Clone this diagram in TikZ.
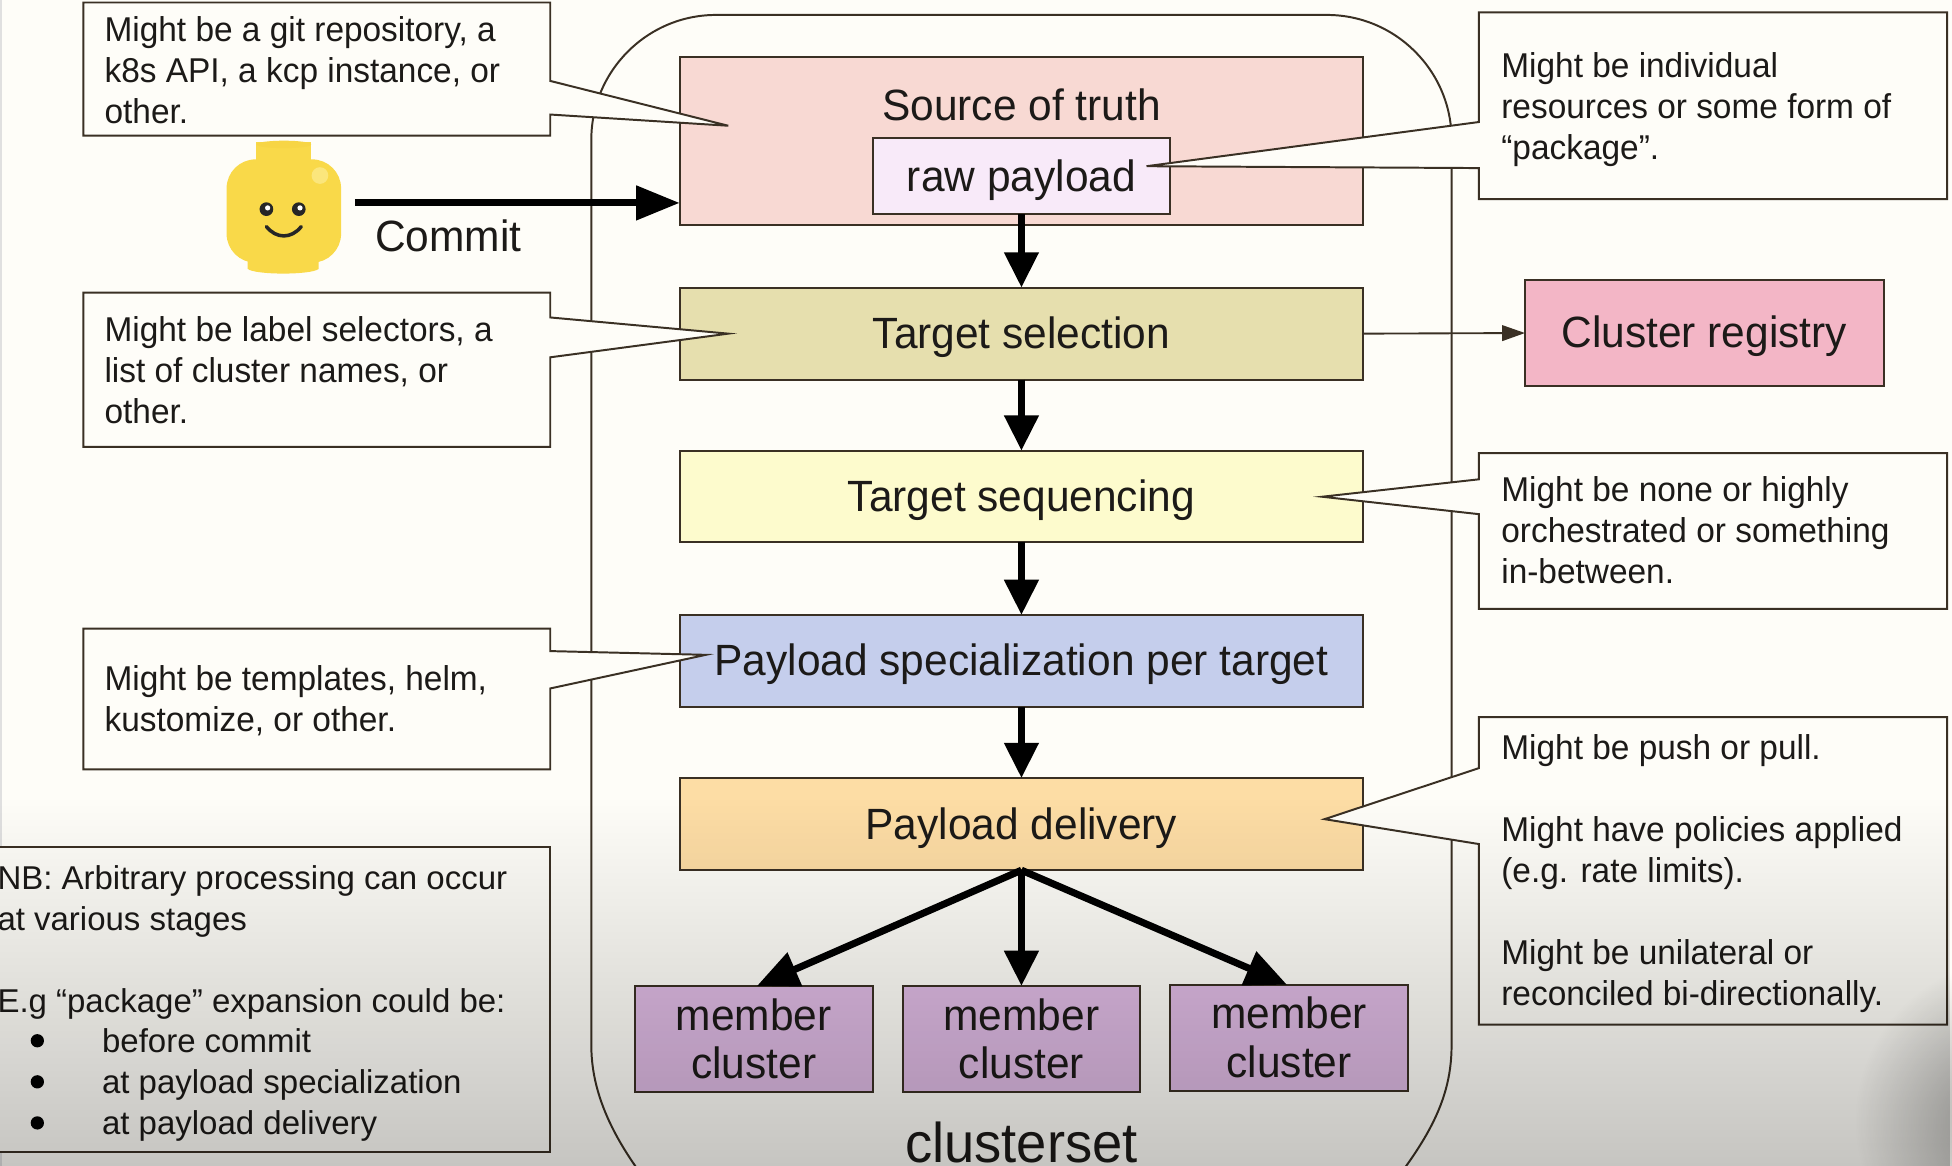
\documentclass[tikz,border=0pt]{standalone}
\usepackage{fontspec}
\setmainfont{Liberation Sans}
\newfontfamily\robo[FakeStretch=0.97]{Liberation Sans}
\usetikzlibrary{arrows.meta,fadings,calc}
\definecolor{ink}{HTML}{1C1A18}
\definecolor{edge}{HTML}{3A3024}
\definecolor{paper}{HTML}{FEFDF8}
\definecolor{csource}{HTML}{F8D9D3}
\definecolor{craw}{HTML}{F8EAF9}
\definecolor{ctarget}{HTML}{E6DFAE}
\definecolor{cseq}{HTML}{FDFBCD}
\definecolor{cspec}{HTML}{C5CEEC}
\definecolor{cdeliv}{HTML}{FDDDA5}
\definecolor{cmember}{HTML}{DDB9E2}
\definecolor{cregistry}{HTML}{F3B6C6}
\definecolor{lego}{HTML}{F9D949}
\definecolor{legotop}{HTML}{F7D545}
\definecolor{legolight}{HTML}{FBE67C}
\tikzfading[name=downfade,top color=transparent!100,bottom color=transparent!78]
\tikzfading[name=cornerfade,inner color=transparent!62,outer color=transparent!100]
\tikzset{
 x=0.6pt,y=-0.6pt,
 boxs/.style={draw=edge,line width=1pt,inner sep=0pt,outer sep=0pt,text=ink,align=center,robo},
 robo/.style={font=\robo\fontsize{21.1}{24}\selectfont},
 bigtext/.style={font=\robo\fontsize{27}{30}\selectfont},
 ctext/.style={anchor=north west,inner sep=0pt,outer sep=0pt,align=left,text=ink,font=\robo\fontsize{16.6}{19.75}\selectfont},
 nbtext/.style={anchor=north west,inner sep=0pt,outer sep=0pt,align=left,text=ink,font=\fontsize{15.9}{19.75}\selectfont},
 call/.style={draw=edge,line width=0.95pt,fill=paper,line join=miter},
 thick arrow/.style={line width=3.4pt,draw=black,-{Triangle[length=17pt,width=16pt]}},
 fan arrow/.style={line width=3.4pt,draw=black,-{Triangle[length=20pt,width=17pt]}},
 bullet dot/.style={circle,fill=black,inner sep=0pt,minimum size=6.4pt},
}
\newcommand\lift[1]{\raisebox{0pt}[17.2pt][2.8pt]{#1}}
\newcommand\bx[7]{\node[boxs,fill=#6,minimum width={(#4-#2)*0.6},minimum height={(#5-#3)*0.6}] (#1) at ({(#2+#4)/2},{(#3+#5)/2}) {#7};}
\begin{document}
\begin{tikzpicture}
\useasboundingbox (0,0) rectangle (1568,936.6);
\fill[paper] (0,0) rectangle (1568,936.6);
\fill[black!12] (0,0) rectangle (1.5,936.6);
% clusterset outline
\draw[edge,line width=0.95pt] (545,980) .. controls (505,935) and (475,890) .. (475,840) -- (475,112) .. controls (475,57) and (520,12) .. (575,12) -- (1066,12) .. controls (1121,12) and (1166,57) .. (1166,112) -- (1166,840) .. controls (1166,890) and (1140,925) .. (1100,975);
% stages
\bx{source}{546}{46}{1095}{181}{csource}{}
\node[robo,text=ink,inner sep=0pt] (sourcelabel) at (820.5,84) {Source of truth};
\bx{raw}{701}{111}{940}{172}{craw}{\lift{raw payload}}
\bx{target}{546}{231}{1095}{305}{ctarget}{\lift{Target selection}}
\bx{seq}{546}{362}{1095}{435}{cseq}{\lift{Target sequencing}}
\bx{spec}{546}{494}{1095}{568}{cspec}{\lift{Payload specialization per target}}
\bx{deliv}{546}{625}{1095}{699}{cdeliv}{\lift{Payload delivery}}
\bx{m1}{510}{792}{701}{877}{cmember}{member\\[-0.5pt]cluster}
\bx{m2}{725}{792}{916}{877}{cmember}{member\\[-0.5pt]cluster}
\bx{m3}{940}{791}{1131}{876}{cmember}{member\\[-0.5pt]cluster}
\bx{registry}{1225}{225}{1513}{310}{cregistry}{\lift{Cluster registry}}
\node[bigtext,text=ink,inner sep=0pt,anchor=base] (clusterset) at (820.5,934) {clusterset};
% arrows
\draw[thick arrow] (raw.south) -- (target.north);
\draw[thick arrow] (target.south) -- (seq.north);
\draw[thick arrow] (seq.south) -- (spec.north);
\draw[thick arrow] (spec.south) -- (deliv.north);
\draw[fan arrow] (deliv.south) -- ([xshift=1.5pt]m1.north);
\draw[thick arrow] (deliv.south) -- (m2.north);
\draw[fan arrow] (deliv.south) -- ([xshift=-1pt]m3.north);
\draw[edge,line width=0.9pt,-{Triangle[length=11pt,width=7.5pt]}] (target.east) -- (registry.west);
% lego head
\fill[lego] (206,114) rectangle (250,132);
\fill[legotop] (228,116) ellipse[x radius=22,y radius=3];
\fill[lego] (199,205) -- (199,216) .. controls (205,221) and (250,221) .. (256,216) -- (256,205) -- cycle;
\fill[lego,rounded corners=14pt] (182,128) rectangle (274,211);
\fill[legolight] (257,141) circle (6.7);
\fill[black!85] (214,168) circle (5.5);
\fill[black!85] (240,168) circle (5.5);
\fill[white] (215,167) circle (2.1);
\fill[white] (241,167) circle (2.1);
\draw[black!85,line width=1.7pt,line cap=round] (214,182) .. controls (222,192) and (234,192) .. (242,182);
\coordinate (legoright) at (285,163);
% commit arrow
\draw[black,line width=3.4pt,-{Triangle[length=21pt,width=16pt]}] (legoright) -- (source.west |- legoright);
\node[robo,text=ink,inner sep=0pt,anchor=base west] (commit) at (301,202) {Commit};
% callouts
\draw[call] (67,2) -- (442,2) -- (442,65) -- (585,101) -- (442,92) -- (442,109) -- (67,109) -- cycle;
\node[ctext] (c1) at (84,13) {Might be a git repository, a\\k8s API, a kcp instance, or\\other.};
\draw[call] (67,235) -- (442,235) -- (442,255) -- (585,268) -- (442,287) -- (442,359) -- (67,359) -- cycle;
\node[ctext] (c2) at (84,254) {Might be label selectors, a\\list of cluster names, or\\other.};
\draw[call] (67,505) -- (442,505) -- (442,523) -- (567,526) -- (442,553) -- (442,618) -- (67,618) -- cycle;
\node[ctext] (c3) at (84,535) {Might be templates, helm,\\kustomize, or other.};
\draw[call] (1188,10) -- (1564,10) -- (1564,160) -- (1188,160) -- (1188,135) -- (921,133.5) -- (1188,98) -- cycle;
\node[ctext] (c4) at (1206,42) {Might be individual\\resources or some form of\\“package”.};
\draw[call] (1188,364) -- (1564,364) -- (1564,489) -- (1188,489) -- (1188,413) -- (1062,399) -- (1188,385) -- cycle;
\node[ctext] (c5) at (1206,383) {Might be none or highly\\orchestrated or something\\in-between.};
\draw[call] (1188,576) -- (1564,576) -- (1564,823) -- (1188,823) -- (1188,678) -- (1064,658) -- (1188,617) -- cycle;
\node[ctext] (c6) at (1206,590) {Might be push or pull.\\[19.75pt]Might have policies applied\\(e.g. rate limits).\\[19.75pt]Might be unilateral or\\reconciled bi-directionally.};
% NB box
\draw[call] (-5,680) -- (442,680) -- (442,925) -- (-5,925) -- cycle;
\node[nbtext] (nb) at (-2,695) {NB: Arbitrary processing can occur\\at various stages\\[19.75pt]E.g “package” expansion could be:};
\node[nbtext] (b1) at (82,826) {before commit};
\node[nbtext] (b2) at (82,859) {at payload specialization};
\node[nbtext] (b3) at (82,892) {at payload delivery};
\node[bullet dot] (d1) at (30,836) {};
\node[bullet dot] (d2) at (30,869) {};
\node[bullet dot] (d3) at (30,902) {};
% video darkening
\fill[black,path fading=downfade] (0,640) rectangle (1568,936.6);
\fill[black,path fading=cornerfade] (1490,770) rectangle (1750,1030);
\end{tikzpicture}
\end{document}
